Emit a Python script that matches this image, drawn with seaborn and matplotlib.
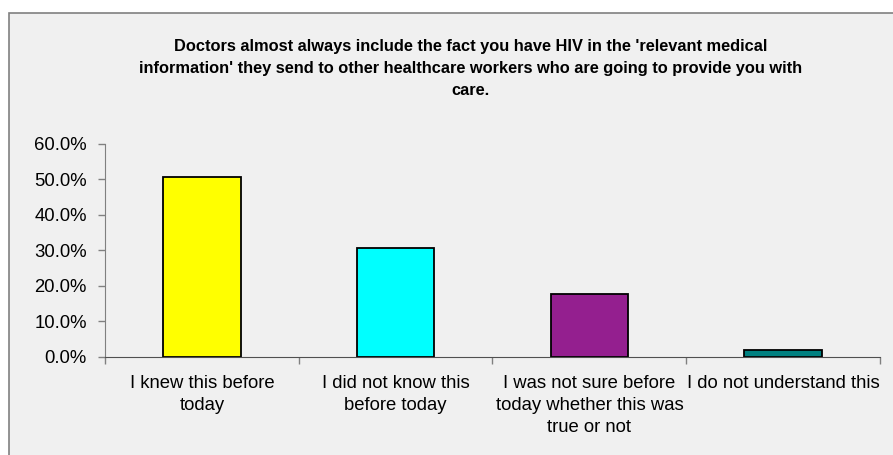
import numpy as np
import pandas as pd
import matplotlib
matplotlib.use('Agg')
import matplotlib.pyplot as plt
import seaborn as sns
from matplotlib.patches import Rectangle
from matplotlib.ticker import FuncFormatter, FixedLocator

# chart data
answers = ['I knew this before\ntoday',
           'I did not know this\nbefore today',
           'I was not sure before\ntoday whether this was\ntrue or not',
           'I do not understand this']
shares = [50.7, 30.6, 17.7, 1.9]
bar_colours = ['#FFFF00', '#00FFFF', '#941F8F', '#008080']
title = ("Doctors almost always include the fact you have HIV in the 'relevant medical\n"
         "information' they send to other healthcare workers who are going to provide you with\n"
         "care.")

df = pd.DataFrame({'answer': answers, 'share': shares})

sns.set_style('white')
plt.rcParams['font.family'] = ['Liberation Sans', 'DejaVu Sans']

fig = plt.figure(figsize=(8.93, 4.55), dpi=100)
fig.patch.set_facecolor('white')

# grey chart area with a thin border, like the spreadsheet export
fig.patches.append(Rectangle((9 / 893, -0.01), 1.0, 1 - 13 / 455 + 0.01,
                             transform=fig.transFigure, facecolor='#f0f0f0',
                             edgecolor='#808080', linewidth=1.2, zorder=-10))

ax = fig.add_axes([105 / 893, 1 - 356.7 / 455, (880 - 105) / 893, (356.7 - 144) / 455])
ax.set_facecolor('none')

sns.barplot(data=df, x='answer', y='share', hue='answer', palette=bar_colours,
            saturation=1, width=0.4, edgecolor='black', linewidth=1.3,
            legend=False, ax=ax)

ax.set_ylim(0, 60)
ax.set_xlim(-0.5, 3.5)
ax.set_yticks(np.arange(0, 61, 10))
ax.yaxis.set_major_formatter(FuncFormatter(lambda v, p: f'{v:.1f}%'))
ax.tick_params(axis='y', left=True, length=5, width=1, color='#808080',
               labelsize=13.3, pad=8, labelcolor='black')

# category boundaries get the tick marks, labels sit in the middle
ax.xaxis.set_minor_locator(FixedLocator(np.arange(-0.5, 3.6, 1)))
ax.tick_params(axis='x', which='minor', bottom=True, length=5, width=1, color='#808080')
ax.tick_params(axis='x', which='major', bottom=False, labelsize=13.3, pad=10, labelcolor='black')
for lab in ax.get_xticklabels():
    lab.set_linespacing(1.38)
ax.set_xlabel('')
ax.set_ylabel('')

for side in ['top', 'right']:
    ax.spines[side].set_visible(False)
ax.spines['left'].set_color('#808080')
ax.spines['bottom'].set_color('#505050')

fig.text(471 / 893, 1 - 39 / 455, title, ha='center', va='top', fontsize=11.8,
         fontweight='bold', linespacing=1.58, color='black')

plt.savefig('out.png', dpi=100)
